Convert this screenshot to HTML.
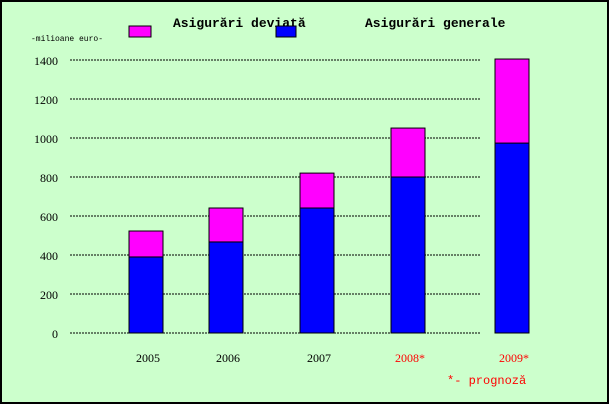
<!DOCTYPE html>
<html><head><meta charset="utf-8"><style>
html,body{margin:0;padding:0;background:#fff}
svg{display:block}
</style></head><body>
<svg width="610" height="405" xmlns="http://www.w3.org/2000/svg">
<rect x="1" y="1" width="607" height="402" fill="#CCFFCC" stroke="#000" stroke-width="2"/>
<g>
<rect x="129" y="26" width="22" height="11" fill="#FF00FF" stroke="#000"/>
<text x="173" y="27" font-family="Liberation Mono, monospace" font-size="13" font-weight="bold">Asigurări deviaţă</text>
<rect x="276" y="26" width="20" height="11" fill="#0000FF" stroke="#000"/>
<text x="365" y="27" font-family="Liberation Mono, monospace" font-size="13" font-weight="bold">Asigurări generale</text>
</g>
<text x="31" y="41" font-family="Liberation Mono, monospace" font-size="8">-milioane euro-</text>
<g id="grid"></g><g id="bars"></g><g id="labels"></g>
<text x="447" y="384" fill="#FF0000" font-family="Liberation Mono, monospace" font-size="12">*- prognoză</text>
</svg>
<script>
const years=["2005","2006","2007","2008*","2009*"];
const generale=[390,467,641,800,974];
const deviata=[133,174,179,251,431];
const forecast=[false,false,false,true,true];
const ticks=[0,200,400,600,800,1000,1200,1400];
const NS="http://www.w3.org/2000/svg";
const y0=333,y1=60,vmax=1400;
function y(v){return y0-(v/vmax)*(y0-y1);}
const barX=[129,209,300,391,495];
const barW=34;
function mk(t,a,p){const e=document.createElementNS(NS,t);for(const k in a)e.setAttribute(k,a[k]);p.appendChild(e);return e;}
const grid=document.getElementById('grid'),bars=document.getElementById('bars'),labels=document.getElementById('labels');
ticks.forEach(v=>{
const l=mk('line',{x1:70,x2:480,y1:y(v),y2:y(v),stroke:'#000','stroke-width':1,'stroke-dasharray':'2,1'},grid);


const t=mk('text',{x:58,y:y(v)+5,'text-anchor':'end','font-family':'Liberation Serif, serif','font-size':12},grid);
t.textContent=v;


});
years.forEach((yr,i)=>{
const g=generale[i],d=deviata[i];
const b=mk('rect',{x:barX[i],y:y(g),width:barW,height:y(0)-y(g),fill:'#0000FF',stroke:'#000'},bars);


const p=mk('rect',{x:barX[i],y:y(g+d),width:barW,height:y(g)-y(g+d),fill:'#FF00FF',stroke:'#000'},bars);


const t=mk('text',{x:barX[i]+barW/2+2,y:362,'text-anchor':'middle','font-family':'Liberation Serif, serif','font-size':12,fill:forecast[i]?'#FF0000':'#000'},labels);
t.textContent=yr;


});
</script>
</body></html>
